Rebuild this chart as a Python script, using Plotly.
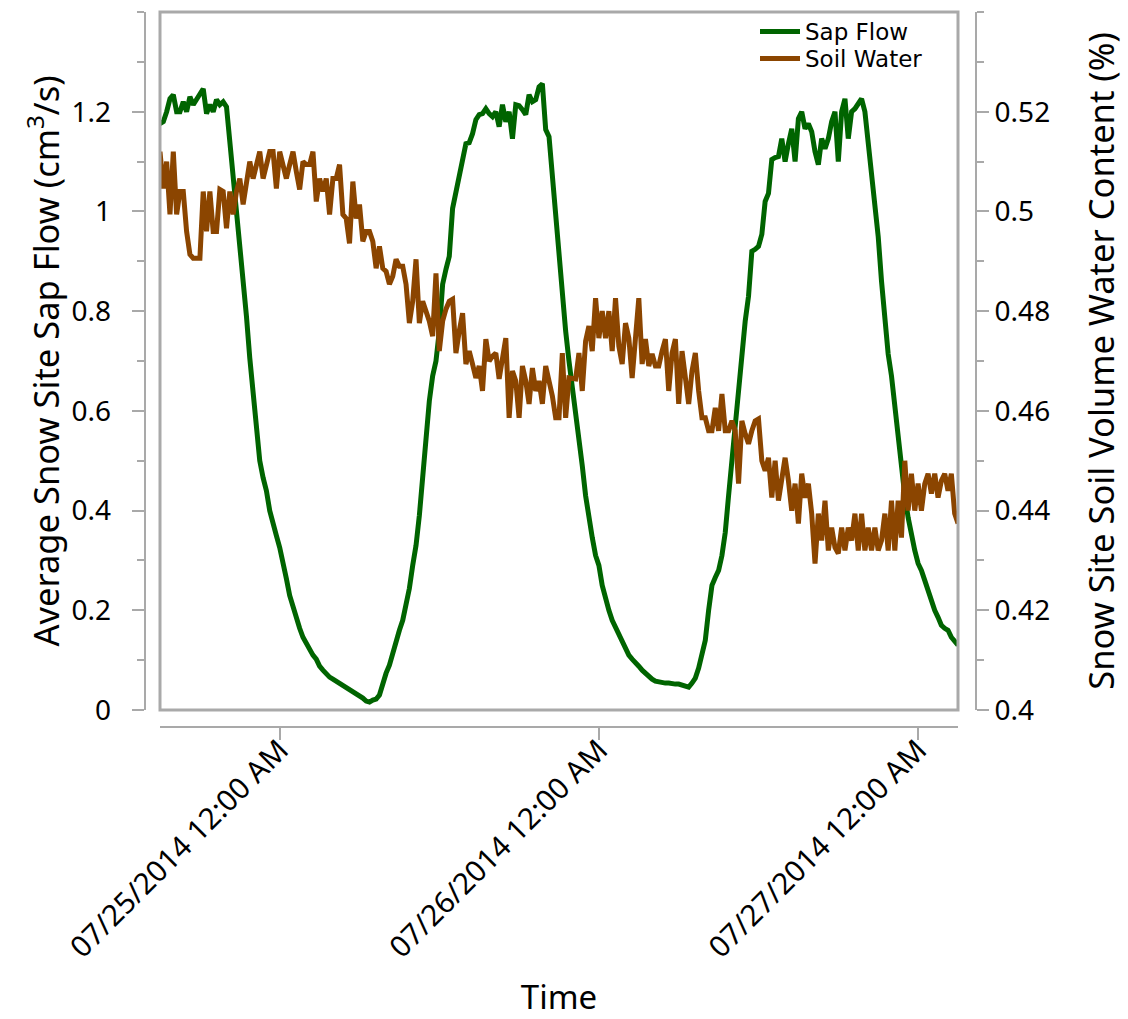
import pandas as pd
import plotly.graph_objects as go

start_time = "2014-07-24 15:00"
n_points = 241
times = pd.date_range(start_time, periods=n_points, freq="15min")

sap_flow = [
    1.176, 1.180, 1.200, 1.226, 1.234, 1.200, 1.200, 1.220, 1.200, 1.230,
    1.214, 1.224, 1.234, 1.246, 1.196, 1.214, 1.200, 1.224, 1.214, 1.220,
    1.210, 1.140, 1.086, 1.006, 0.926, 0.860, 0.790, 0.706, 0.640, 0.570,
    0.500, 0.466, 0.440, 0.400, 0.370, 0.350, 0.326, 0.300, 0.264, 0.230,
    0.206, 0.186, 0.164, 0.146, 0.134, 0.120, 0.110, 0.102, 0.088, 0.080,
    0.072, 0.066, 0.062, 0.058, 0.054, 0.048, 0.044, 0.040, 0.036, 0.034,
    0.030, 0.024, 0.018, 0.016, 0.020, 0.022, 0.030, 0.054, 0.074, 0.090,
    0.116, 0.134, 0.160, 0.180, 0.210, 0.244, 0.290, 0.330, 0.390, 0.470,
    0.560, 0.620, 0.670, 0.700, 0.760, 0.854, 0.884, 0.910, 1.006, 1.040,
    1.076, 1.114, 1.136, 1.138, 1.156, 1.184, 1.194, 1.196, 1.206, 1.196,
    1.190, 1.200, 1.170, 1.214, 1.180, 1.200, 1.146, 1.214, 1.212, 1.204,
    1.194, 1.234, 1.220, 1.224, 1.250, 1.256, 1.164, 1.150, 1.070, 0.980,
    0.910, 0.840, 0.760, 0.700, 0.650, 0.590, 0.540, 0.490, 0.430, 0.380,
    0.346, 0.310, 0.290, 0.250, 0.220, 0.200, 0.180, 0.166, 0.150, 0.138,
    0.126, 0.110, 0.102, 0.096, 0.088, 0.080, 0.074, 0.066, 0.062, 0.058,
    0.056, 0.054, 0.054, 0.054, 0.052, 0.052, 0.052, 0.050, 0.048, 0.046,
    0.054, 0.064, 0.084, 0.110, 0.140, 0.200, 0.250, 0.266, 0.280, 0.310,
    0.356, 0.430, 0.500, 0.580, 0.650, 0.716, 0.780, 0.830, 0.920, 0.924,
    0.930, 0.954, 1.020, 1.036, 1.104, 1.108, 1.110, 1.146, 1.100, 1.136,
    1.166, 1.100, 1.186, 1.200, 1.166, 1.176, 1.160, 1.120, 1.094, 1.146,
    1.126, 1.146, 1.180, 1.200, 1.100, 1.200, 1.226, 1.146, 1.200, 1.206,
    1.216, 1.226, 1.200, 1.140, 1.080, 1.020, 0.950, 0.860, 0.786, 0.714,
    0.670, 0.610, 0.546, 0.480, 0.430, 0.386, 0.346, 0.320, 0.294, 0.280,
    0.260, 0.240, 0.216, 0.200, 0.186, 0.170, 0.164, 0.160, 0.146, 0.138,
    0.130,
]

soil_water = [
    0.5120, 0.5046, 0.5100, 0.4994, 0.5120, 0.4994, 0.5040, 0.5040, 0.4960, 0.4914,
    0.4906, 0.4906, 0.4906, 0.5040, 0.4960, 0.5040, 0.4960, 0.4960, 0.5044, 0.5040,
    0.4966, 0.5040, 0.4994, 0.5040, 0.5066, 0.5014, 0.5066, 0.5100, 0.5066, 0.5094,
    0.5120, 0.5066, 0.5094, 0.5120, 0.5120, 0.5046, 0.5120, 0.5094, 0.5066, 0.5094,
    0.5120, 0.5080, 0.5044, 0.5100, 0.5094, 0.5094, 0.5120, 0.5020, 0.5066, 0.5040,
    0.5066, 0.4994, 0.5066, 0.5066, 0.5094, 0.4994, 0.4986, 0.4936, 0.5060, 0.4986,
    0.5014, 0.4940, 0.4960, 0.4960, 0.4940, 0.4886, 0.4930, 0.4886, 0.4880, 0.4854,
    0.4870, 0.4904, 0.4890, 0.4890, 0.4854, 0.4776, 0.4820, 0.4904, 0.4776, 0.4820,
    0.4800, 0.4780, 0.4750, 0.4876, 0.4720, 0.4780, 0.4804, 0.4820, 0.4824, 0.4716,
    0.4760, 0.4796, 0.4694, 0.4720, 0.4694, 0.4666, 0.4690, 0.4640, 0.4744, 0.4700,
    0.4710, 0.4716, 0.4664, 0.4710, 0.4746, 0.4586, 0.4680, 0.4660, 0.4586, 0.4690,
    0.4660, 0.4614, 0.4686, 0.4640, 0.4660, 0.4614, 0.4690, 0.4660, 0.4630, 0.4586,
    0.4586, 0.4716, 0.4586, 0.4666, 0.4666, 0.4664, 0.4716, 0.4640, 0.4740, 0.4770,
    0.4720, 0.4826, 0.4746, 0.4800, 0.4746, 0.4800, 0.4720, 0.4826, 0.4730, 0.4694,
    0.4776, 0.4746, 0.4666, 0.4760, 0.4826, 0.4694, 0.4744, 0.4690, 0.4714, 0.4690,
    0.4690, 0.4720, 0.4744, 0.4640, 0.4716, 0.4744, 0.4614, 0.4720, 0.4666, 0.4614,
    0.4680, 0.4716, 0.4640, 0.4586, 0.4586, 0.4560, 0.4560, 0.4606, 0.4560, 0.4634,
    0.4560, 0.4560, 0.4580, 0.4560, 0.4454, 0.4580, 0.4554, 0.4534, 0.4560, 0.4580,
    0.4584, 0.4500, 0.4480, 0.4506, 0.4426, 0.4500, 0.4420, 0.4460, 0.4506, 0.4460,
    0.4400, 0.4454, 0.4374, 0.4474, 0.4426, 0.4454, 0.4394, 0.4294, 0.4394, 0.4340,
    0.4420, 0.4320, 0.4366, 0.4326, 0.4314, 0.4366, 0.4320, 0.4366, 0.4340, 0.4394,
    0.4320, 0.4394, 0.4320, 0.4366, 0.4320, 0.4366, 0.4320, 0.4340, 0.4394, 0.4320,
    0.4420, 0.4320, 0.4420, 0.4346, 0.4500, 0.4400, 0.4474, 0.4400, 0.4454, 0.4400,
    0.4454, 0.4474, 0.4434, 0.4474, 0.4426, 0.4460, 0.4474, 0.4440, 0.4474, 0.4394,
    0.4374,
]

x_range = ["2014-07-24 15:00", "2014-07-27 03:00"]
x_tick_vals = ["2014-07-25 00:00", "2014-07-26 00:00", "2014-07-27 00:00"]
x_tick_text = ["07/25/2014 12:00 AM", "07/26/2014 12:00 AM", "07/27/2014 12:00 AM"]
left_range = [0, 1.4]
left_tick_vals = [0, 0.2, 0.4, 0.6, 0.8, 1.0, 1.2]
left_tick_text = ["0", "0.2", "0.4", "0.6", "0.8", "1", "1.2"]
right_range = [0.4, 0.54]
right_tick_vals = [0.40, 0.42, 0.44, 0.46, 0.48, 0.50, 0.52]
right_tick_text = ["0.4", "0.42", "0.44", "0.46", "0.48", "0.5", "0.52"]

GREEN = "#006400"
BROWN = "#8B4500"
AXIS_GRAY = "#A9A9A9"
FONT = "Noto Sans"
TICK_SIZE = 28
TITLE_SIZE = 34.5
LEGEND_FONT = dict(family="DejaVu Sans", size=23, color="black")

W, H = 1128, 1019
ML, MR, MT, MB = 100, 1128 - 976, 10, 1019 - 727
pw, ph = W - ML - MR, H - MT - MB


def px_x(p):
    return (p - ML) / pw


def px_y(p):
    return (H - MB - p) / ph


dx0, dx1 = px_x(160), px_x(958)
dy0, dy1 = px_y(710), px_y(10)

fig = go.Figure()
fig.add_trace(go.Scatter(
    x=times, y=sap_flow, name="Sap Flow", mode="lines",
    line=dict(color=GREEN, width=5), xaxis="x", yaxis="y", legend="legend",
))
fig.add_trace(go.Scatter(
    x=times, y=soil_water, name="Soil Water", mode="lines",
    line=dict(color=BROWN, width=5), xaxis="x", yaxis="y2", legend="legend2",
))
# invisible helper trace so the label-only axes (x2 / y3) are drawn
fig.add_trace(go.Scatter(
    x=times, y=sap_flow, mode="lines", line=dict(width=0, color="rgba(0,0,0,0)"),
    xaxis="x2", yaxis="y3", showlegend=False, hoverinfo="skip",
))

line_axis = dict(
    showline=True, linecolor=AXIS_GRAY, linewidth=2,
    ticks="outside", ticklen=12, tickwidth=2, tickcolor=AXIS_GRAY,
    showgrid=False, zeroline=False, automargin=False,
)
label_axis = dict(
    showline=False, ticks="", showgrid=False, zeroline=False, automargin=False,
)

legend_common = dict(
    xanchor="left", yanchor="top", bgcolor="rgba(0,0,0,0)",
    font=LEGEND_FONT, itemwidth=40,
)

fig.update_layout(
    width=W, height=H,
    margin=dict(l=ML, r=MR, t=MT, b=MB, pad=0),
    paper_bgcolor="white", plot_bgcolor="white",
    showlegend=True,
    legend=dict(x=px_x(755), y=px_y(8), **legend_common),
    legend2=dict(x=px_x(755), y=px_y(35), **legend_common),
    # main x axis: line + ticks
    xaxis=dict(
        domain=[dx0, dx1], anchor="free", position=0,
        range=x_range, tickmode="array", tickvals=x_tick_vals,
        showticklabels=False, **line_axis,
    ),
    # x labels + title
    xaxis2=dict(
        domain=[dx0, dx1], anchor="free", position=px_y(726), overlaying="x",
        range=x_range, tickmode="array", tickvals=x_tick_vals, ticktext=x_tick_text,
        tickangle=-45, tickfont=dict(family=FONT, size=29.5, color="black"),
        title=dict(text="Time", font=dict(family=FONT, size=33, color="black"), standoff=46),
        **label_axis,
    ),
    # left axis: line + ticks
    yaxis=dict(
        domain=[dy0, dy1], anchor="free", position=px_x(145), side="left",
        range=left_range, tickmode="array", tickvals=left_tick_vals,
        showticklabels=False,
        minor=dict(dtick=0.1, tick0=0, ticks="outside", ticklen=7, tickwidth=2, tickcolor=AXIS_GRAY),
        **line_axis,
    ),
    # right axis
    yaxis2=dict(
        domain=[dy0, dy1], anchor="free", position=1, side="right", overlaying="y",
        range=right_range, tickmode="array", tickvals=right_tick_vals, ticktext=right_tick_text,
        tickfont=dict(family=FONT, size=TICK_SIZE, color="black"),
        minor=dict(dtick=0.01, tick0=0.4, ticks="outside", ticklen=7, tickwidth=2, tickcolor=AXIS_GRAY),
        title=dict(text="Snow Site Soil Volume Water Content (%)",
                   font=dict(family=FONT, size=TITLE_SIZE, color="black"), standoff=40),
        **line_axis,
    ),
    # left labels + title
    yaxis3=dict(
        domain=[dy0, dy1], anchor="free", position=px_x(111), side="left", overlaying="y",
        range=left_range, tickmode="array", tickvals=left_tick_vals, ticktext=left_tick_text,
        tickfont=dict(family=FONT, size=TICK_SIZE, color="black"),
        title=dict(text="Average Snow Site Sap Flow (cm<sup>3</sup>/s)",
                   font=dict(family=FONT, size=TITLE_SIZE, color="black"), standoff=0),
        **label_axis,
    ),
    shapes=[dict(
        type="rect", xref="paper", yref="paper",
        x0=dx0, x1=dx1, y0=dy0, y1=dy1,
        line=dict(color=AXIS_GRAY, width=3), fillcolor="rgba(0,0,0,0)", layer="above",
    )],
)

fig.write_html("out.html")
